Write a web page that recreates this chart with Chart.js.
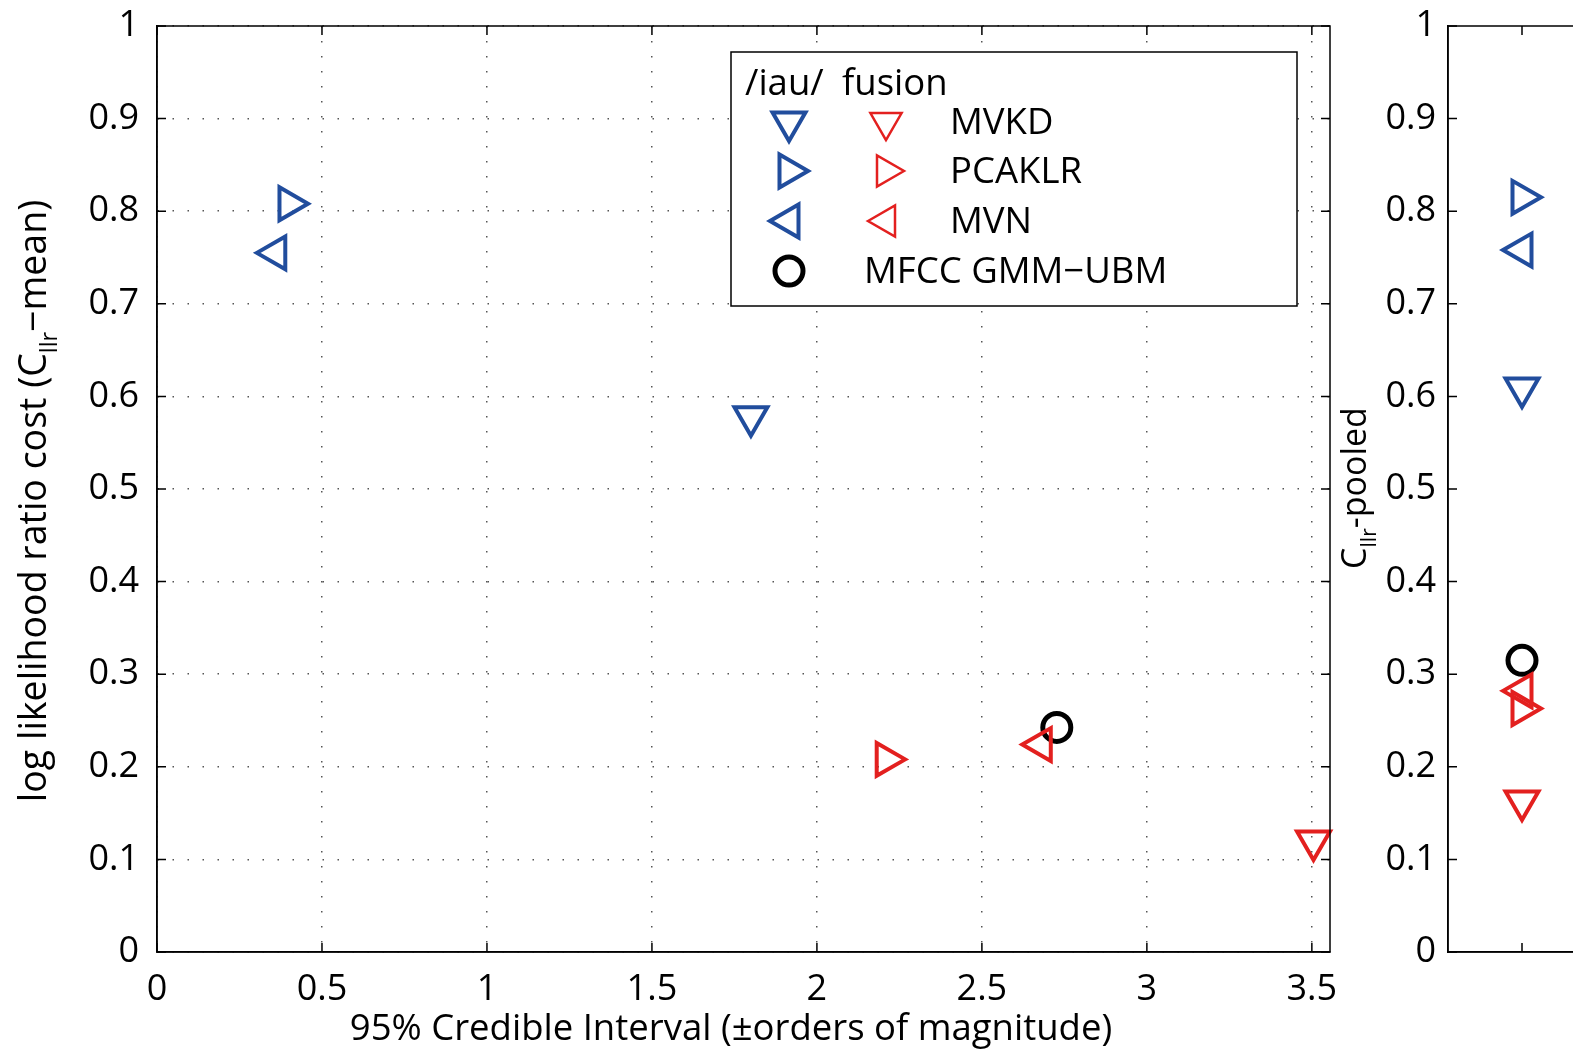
<!DOCTYPE html>
<html>
<head>
<meta charset="utf-8">
<script src="https://cdn.jsdelivr.net/npm/chart.js@4.4.1/dist/chart.umd.min.js"></script>
<style>
  html, body { margin: 0; padding: 0; background: #fff; overflow: hidden; width: 1573px; height: 1052px; }
  canvas { position: absolute; top: 0; }
  #main { left: 0; }
  #side { left: 1335px; }
</style>
</head>
<body>
<canvas id="main" width="1353" height="1052"></canvas>
<canvas id="side" width="300" height="1052"></canvas>
<script>
(function () {
  'use strict';

  // data
  const methods = ['MVKD', 'PCAKLR', 'MVN'];
  const iauCI = [1.80, 0.40, 0.36];
  const iauMean = [0.578, 0.808, 0.755];
  const iauPooled = [0.609, 0.815, 0.758];
  const fusionCI = [3.505, 2.21, 2.68];
  const fusionMean = [0.12, 0.208, 0.224];
  const fusionPooled = [0.163, 0.263, 0.282];
  const mfccCI = [2.727];
  const mfccMean = [0.2425];
  const mfccPooled = [0.315];
  const xTicks = [0, 0.5, 1, 1.5, 2, 2.5, 3, 3.5];
  const yTicks = [0, 0.1, 0.2, 0.3, 0.4, 0.5, 0.6, 0.7, 0.8, 0.9, 1];
  const sideX = 1;

  const BLUE = '#214d9d';
  const RED = '#e3201f';
  const GRID = '#555';
  const FONT = '"Open Sans", "Noto Sans", sans-serif';
  const markerRot = { MVKD: 180, PCAKLR: 90, MVN: 270 };
  const TICK_LEN = 9;

  Chart.defaults.font.family = FONT;
  Chart.defaults.color = '#000';
  const H = Chart.helpers;

  function drawRich(ctx, parts, x, y, size, align) {
    let w = 0;
    parts.forEach(p => {
      ctx.font = (p.sub ? size * 0.62 : size) + 'px ' + FONT;
      w += ctx.measureText(p.t).width;
    });
    let cx = align === 'center' ? x - w / 2 : x;
    parts.forEach(p => {
      ctx.font = (p.sub ? size * 0.62 : size) + 'px ' + FONT;
      ctx.fillText(p.t, cx, y + (p.sub ? size * 0.3 : 0));
      cx += ctx.measureText(p.t).width;
    });
  }

  function marker(ctx, style, rot, r, bw, color, x, y) {
    ctx.save();
    ctx.strokeStyle = color;
    ctx.fillStyle = 'rgba(0,0,0,0)';
    ctx.lineWidth = bw;
    H.drawPoint(ctx, { pointStyle: style, rotation: rot, radius: r, borderWidth: bw }, x, y);
    ctx.restore();
  }

  function inwardTicks(ctx, chart, xVals, yVals, sides) {
    const a = chart.chartArea;
    const xs = chart.scales.x, ys = chart.scales.y;
    ctx.save();
    ctx.strokeStyle = '#000';
    ctx.lineWidth = 1.5;
    ctx.beginPath();
    xVals.forEach(v => {
      const px = xs.getPixelForValue(v);
      ctx.moveTo(px, a.bottom); ctx.lineTo(px, a.bottom - TICK_LEN);
      ctx.moveTo(px, a.top); ctx.lineTo(px, a.top + TICK_LEN);
    });
    yVals.forEach(v => {
      const py = ys.getPixelForValue(v);
      ctx.moveTo(a.left, py); ctx.lineTo(a.left + TICK_LEN, py);
      if (sides.right) { ctx.moveTo(a.right, py); ctx.lineTo(a.right - TICK_LEN, py); }
    });
    ctx.stroke();
    ctx.strokeRect(a.left, a.top, a.right - a.left, a.bottom - a.top);
    ctx.restore();
  }

  // pin the scale sizes so the plot area matches the reference
  function fixSize(w, h) {
    return s => {
      if (w) s.width = w;
      if (h) s.height = h;
      s.paddingTop = 0; s.paddingBottom = 0; s.paddingLeft = 0; s.paddingRight = 0;
    };
  }

  function series(xs, ys) {
    return xs.map((x, i) => ({ x: x, y: ys[i] }));
  }

  const rotations = methods.map(m => markerRot[m]);

  function datasets(iauX, iauY, fusX, fusY, mfX, mfY) {
    return [
      {
        label: '/iau/', data: series(iauX, iauY),
        pointStyle: 'triangle', pointRotation: rotations, pointRadius: 19,
        pointBorderWidth: 4, borderColor: BLUE, backgroundColor: 'rgba(0,0,0,0)', clip: false
      },
      {
        label: 'fusion', data: series(fusX, fusY),
        pointStyle: 'triangle', pointRotation: rotations, pointRadius: 19,
        pointBorderWidth: 4, borderColor: RED, backgroundColor: 'rgba(0,0,0,0)', clip: false
      },
      {
        label: 'MFCC GMM\u2212UBM', data: series(mfX, mfY),
        pointStyle: 'circle', pointRadius: 14, pointBorderWidth: 5,
        borderColor: '#000', backgroundColor: 'rgba(0,0,0,0)', clip: false
      }
    ];
  }

  const mainDecor = {
    id: 'mainDecor',
    afterDraw(chart) {
      const ctx = chart.ctx;
      inwardTicks(ctx, chart, xTicks, yTicks, { right: true });

      // y axis title with subscript
      ctx.save();
      ctx.fillStyle = '#000';
      ctx.textBaseline = 'alphabetic';
      ctx.translate(46, 501);
      ctx.rotate(-Math.PI / 2);
      drawRich(ctx, [{ t: 'log likelihood ratio cost (C' }, { t: 'llr', sub: true }, { t: '\u2212mean)' }], 0, 0, 37.5, 'center');
      ctx.restore();

      // x axis title
      ctx.save();
      ctx.fillStyle = '#000';
      ctx.textAlign = 'center';
      ctx.textBaseline = 'alphabetic';
      ctx.font = '36.5px ' + FONT;
      ctx.fillText('95% Credible Interval (\u00b1orders of magnitude)', 731, 1040);
      ctx.restore();

      // legend box
      ctx.save();
      ctx.fillStyle = '#fff';
      ctx.fillRect(731, 52, 566, 254);
      ctx.strokeStyle = '#000';
      ctx.lineWidth = 1.5;
      ctx.strokeRect(731, 52, 566, 254);
      ctx.fillStyle = '#000';
      ctx.textBaseline = 'middle';
      ctx.textAlign = 'left';
      ctx.font = '36.5px ' + FONT;
      ctx.fillText('/iau/', 745, 85);
      ctx.fillText('fusion', 842, 85);
      const rowY = [122, 171, 221];
      methods.forEach((m, i) => {
        marker(ctx, 'triangle', rotations[i], 19, 4, BLUE, 789, rowY[i]);
        marker(ctx, 'triangle', rotations[i], 18, 2.5, RED, 886, rowY[i]);
        ctx.fillText(m, 950, rowY[i] + 2);
      });
      marker(ctx, 'circle', 0, 14, 5, '#000', 789, 271);
      ctx.fillText('MFCC GMM\u2212UBM', 864, 273);
      ctx.restore();
    }
  };

  new Chart(document.getElementById('main'), {
    type: 'scatter',
    data: { datasets: datasets(iauCI, iauMean, fusionCI, fusionMean, mfccCI, mfccMean) },
    options: {
      responsive: false,
      animation: false,
      events: [],
      layout: { padding: { left: 0, top: 26, right: 11, bottom: 0 } },
      plugins: { legend: { display: false }, tooltip: { enabled: false } },
      scales: {
        x: {
          type: 'linear', min: 0, max: 3.555,
          afterBuildTicks: s => { s.ticks = xTicks.map(v => ({ value: v })); },
          afterFit: fixSize(0, 100),
          grid: { color: GRID, lineWidth: 1.5, drawTicks: false },
          border: { display: true, color: '#000', width: 1.5, dash: [1.5, 13.5] },
          ticks: { font: { size: 36 }, color: '#000', padding: 16, callback: v => String(v) }
        },
        y: {
          type: 'linear', min: 0, max: 1,
          afterBuildTicks: s => { s.ticks = yTicks.map(v => ({ value: v })); },
          afterFit: fixSize(157, 0),
          grid: { color: GRID, lineWidth: 1.5, drawTicks: false },
          border: { display: true, color: '#000', width: 1.5, dash: [1.5, 13.5] },
          ticks: { font: { size: 36 }, color: '#000', padding: 18, callback: v => String(v) }
        }
      }
    },
    plugins: [mainDecor]
  });

  const sideDecor = {
    id: 'sideDecor',
    afterDraw(chart) {
      const ctx = chart.ctx;
      inwardTicks(ctx, chart, [sideX], yTicks, { right: false });
      ctx.save();
      ctx.fillStyle = '#000';
      ctx.textBaseline = 'alphabetic';
      ctx.translate(31, 488);
      ctx.rotate(-Math.PI / 2);
      drawRich(ctx, [{ t: 'C' }, { t: 'llr', sub: true }, { t: '-pooled' }], 0, 0, 34, 'center');
      ctx.restore();
    }
  };

  const sideXs = n => Array(n).fill(sideX);

  new Chart(document.getElementById('side'), {
    type: 'scatter',
    data: { datasets: datasets(sideXs(3), iauPooled, sideXs(3), fusionPooled, sideXs(1), mfccPooled) },
    options: {
      responsive: false,
      animation: false,
      events: [],
      layout: { padding: { left: 0, top: 26, right: 39, bottom: 0 } },
      plugins: { legend: { display: false }, tooltip: { enabled: false } },
      scales: {
        x: {
          type: 'linear', min: 0, max: 2,
          afterBuildTicks: s => { s.ticks = [{ value: sideX }]; },
          afterFit: fixSize(0, 100),
          grid: { display: false, drawTicks: false },
          border: { display: true, color: '#000', width: 1.5 },
          ticks: { display: false }
        },
        y: {
          type: 'linear', min: 0, max: 1,
          afterBuildTicks: s => { s.ticks = yTicks.map(v => ({ value: v })); },
          afterFit: fixSize(113, 0),
          grid: { display: false, drawTicks: false },
          border: { display: true, color: '#000', width: 1.5 },
          ticks: { font: { size: 36 }, color: '#000', padding: 12, callback: v => String(v) }
        }
      }
    },
    plugins: [sideDecor]
  });
})();
</script>
</body>
</html>
